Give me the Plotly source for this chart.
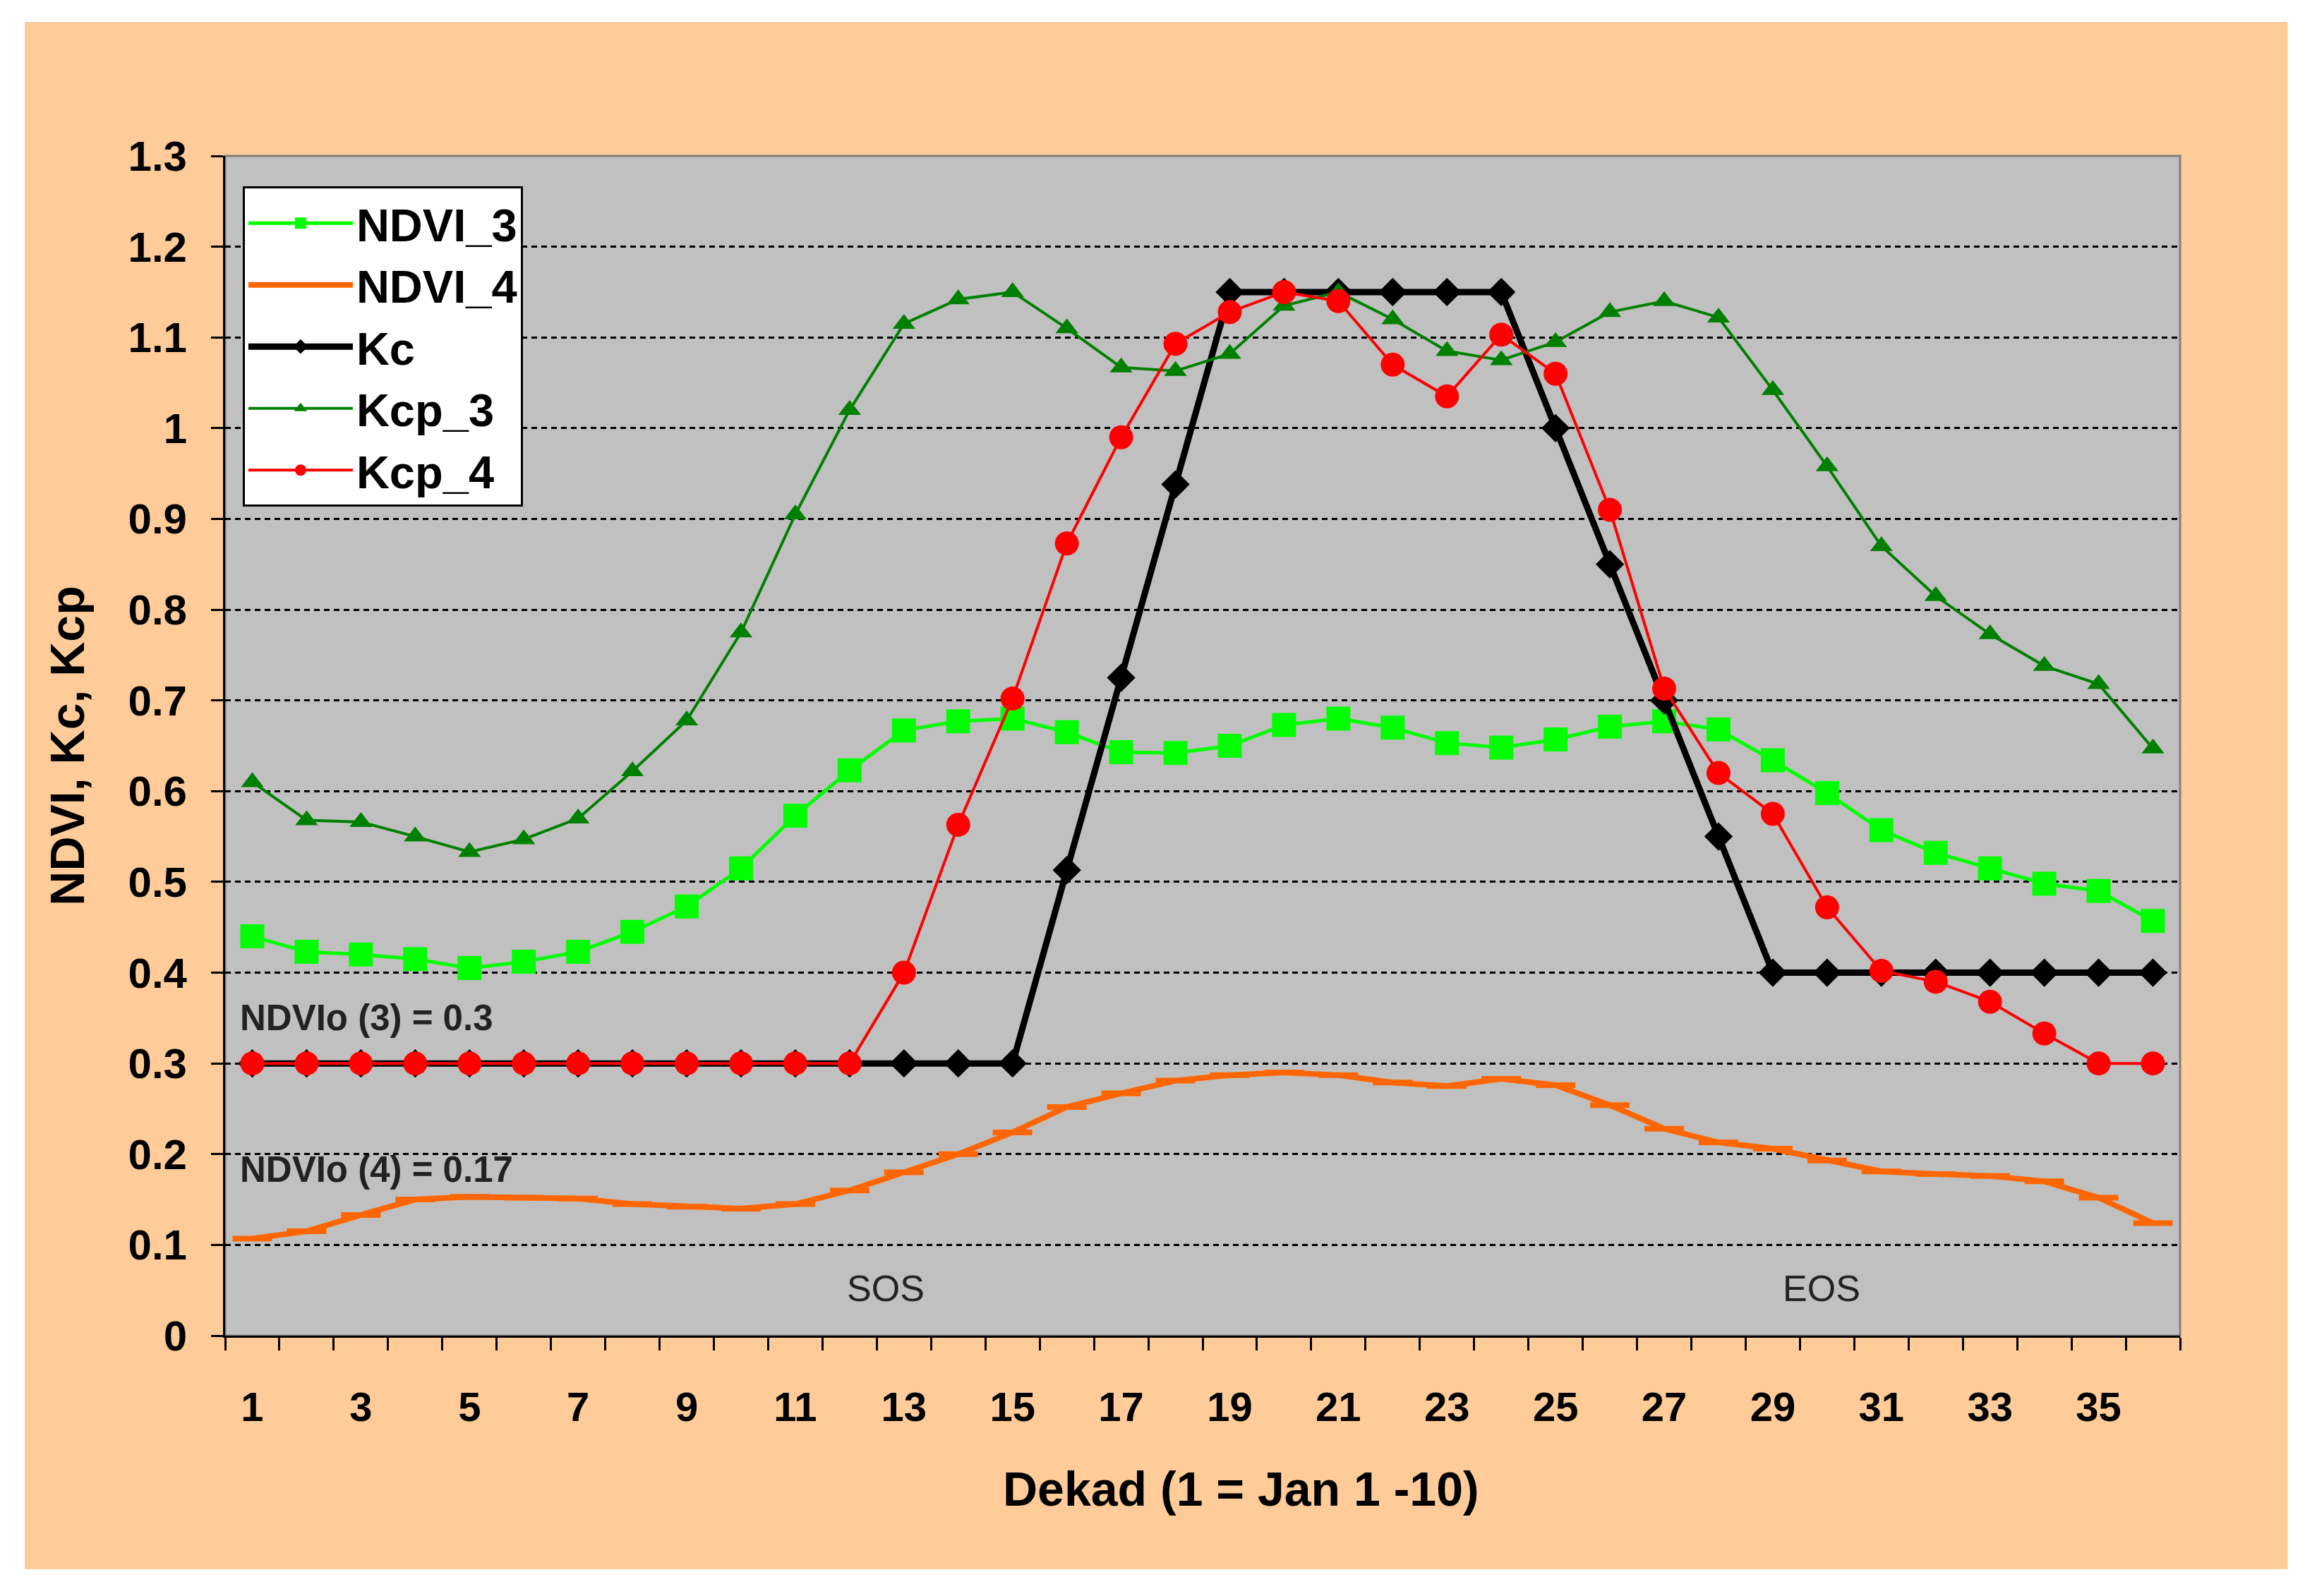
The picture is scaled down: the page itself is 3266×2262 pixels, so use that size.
import plotly.graph_objects as go

dekad = list(range(1, 37))

ndvi_3 = [0.440, 0.423, 0.420, 0.415, 0.405, 0.412, 0.423, 0.445, 0.473, 0.515,
          0.573, 0.623, 0.667, 0.677, 0.680, 0.665, 0.643, 0.642, 0.650, 0.673,
          0.680, 0.670, 0.653, 0.648, 0.657, 0.671, 0.677, 0.668, 0.634, 0.598,
          0.557, 0.532, 0.515, 0.498, 0.490, 0.457]

ndvi_4 = [0.107, 0.115, 0.133, 0.150, 0.153, 0.152, 0.151, 0.145, 0.142, 0.140,
          0.145, 0.160, 0.180, 0.200, 0.224, 0.252, 0.267, 0.281, 0.287, 0.290,
          0.287, 0.279, 0.275, 0.283, 0.276, 0.254, 0.228, 0.213, 0.206, 0.193,
          0.181, 0.178, 0.176, 0.170, 0.152, 0.124]

kc = [0.3] * 15 + [0.513, 0.725, 0.938, 1.15, 1.15, 1.15, 1.15, 1.15, 1.15,
                   1.0, 0.85, 0.7, 0.55, 0.4, 0.4, 0.4, 0.4, 0.4, 0.4, 0.4, 0.4]

kcp_3 = [0.610, 0.568, 0.566, 0.550, 0.533, 0.547, 0.570, 0.622, 0.678, 0.775,
         0.905, 1.020, 1.115, 1.142, 1.150, 1.110, 1.067, 1.063, 1.082, 1.135,
         1.150, 1.120, 1.085, 1.075, 1.095, 1.128, 1.140, 1.122, 1.042, 0.958,
         0.870, 0.815, 0.773, 0.738, 0.718, 0.647]

kcp_4 = [0.3] * 12 + [0.400, 0.563, 0.702, 0.873, 0.990, 1.093, 1.128, 1.150,
                      1.140, 1.070, 1.035, 1.103, 1.060, 0.910, 0.713, 0.620,
                      0.575, 0.472, 0.402, 0.390, 0.368, 0.333, 0.300, 0.300]

x_labels = list(range(1, 37, 2))
y_ticks = [round(0.1 * i, 1) for i in range(0, 14)]
y_text = ["0", "0.1", "0.2", "0.3", "0.4", "0.5", "0.6", "0.7", "0.8", "0.9",
          "1", "1.1", "1.2", "1.3"]

x_title = "Dekad (1 = Jan 1 -10)"
y_title = "NDVI, Kc, Kcp"

FONT = "Liberation Sans, Arial, sans-serif"

fig = go.Figure()

fig.add_trace(go.Scatter(
    x=dekad, y=ndvi_3, name="NDVI_3", mode="lines+markers",
    line=dict(color="#00FF00", width=5),
    marker=dict(symbol="square", size=34, color="#00FF00")))

fig.add_trace(go.Scatter(
    x=dekad, y=ndvi_4, name="NDVI_4", mode="lines+markers",
    line=dict(color="#FF6600", width=8),
    marker=dict(symbol="line-ew", size=40, color="#FF6600",
                line=dict(color="#FF6600", width=8))))

fig.add_trace(go.Scatter(
    x=dekad, y=kc, name="Kc", mode="lines+markers",
    line=dict(color="#000000", width=9),
    marker=dict(symbol="diamond", size=31, color="#000000")))

fig.add_trace(go.Scatter(
    x=dekad, y=kcp_3, name="Kcp_3", mode="lines+markers",
    line=dict(color="#008000", width=4),
    marker=dict(symbol="triangle-up", size=28, color="#008000")))

fig.add_trace(go.Scatter(
    x=dekad, y=kcp_4, name="Kcp_4", mode="lines+markers",
    line=dict(color="#FF0000", width=4),
    marker=dict(symbol="circle", size=34, color="#FF0000")))

shapes = [
    dict(type="rect", xref="paper", yref="paper", x0=-0.1025, x1=1.055,
         y0=-0.198, y1=1.1136, fillcolor="#FFCC99", line=dict(width=0),
         layer="below"),
    dict(type="rect", xref="paper", yref="paper", x0=0, x1=1, y0=0, y1=1,
         fillcolor="#C0C0C0", line=dict(color="#808080", width=3),
         layer="below"),
]

annotations = [
    dict(text="NDVIo (3) = 0.3", xref="paper", yref="y", x=0.007, y=0.35,
         xanchor="left", yanchor="middle", showarrow=False,
         font=dict(family=FONT, size=51, color="#222222", weight="bold")),
    dict(text="NDVIo (4) = 0.17", xref="paper", yref="y", x=0.007, y=0.183,
         xanchor="left", yanchor="middle", showarrow=False,
         font=dict(family=FONT, size=51, color="#222222", weight="bold")),
    dict(text="SOS", xref="x", yref="y", x=12.67, y=0.052,
         xanchor="center", yanchor="middle", showarrow=False,
         font=dict(family=FONT, size=52, color="#222222")),
    dict(text="EOS", xref="x", yref="y", x=29.9, y=0.052,
         xanchor="center", yanchor="middle", showarrow=False,
         font=dict(family=FONT, size=52, color="#222222")),
    dict(text=x_title, xref="paper", yref="paper", x=0.5195, y=-0.1295,
         xanchor="center", yanchor="middle", showarrow=False,
         font=dict(family=FONT, size=68, color="#000000", weight="bold")),
]

fig.update_layout(
    width=3266, height=2262,
    margin=dict(l=311, r=185, t=213, b=377),
    paper_bgcolor="#FFFFFF", plot_bgcolor="#C0C0C0",
    font=dict(family=FONT, color="#000000"),
    shapes=shapes, annotations=annotations,
    legend=dict(x=0.009, y=0.974, xanchor="left", yanchor="top",
                bgcolor="#FFFFFF", bordercolor="#000000", borderwidth=3,
                font=dict(family=FONT, size=65, color="#000000", weight="bold"),
                itemwidth=148, tracegroupgap=0),
    xaxis=dict(
        range=[0.5, 36.5], tickvals=x_labels, ticktext=[str(v) for v in x_labels],
        ticks="", showgrid=False, zeroline=False,
        showline=True, linecolor="#000000", linewidth=3,
        tickfont=dict(family=FONT, size=58, color="#000000", weight="bold"),
        ticklabelstandoff=48,
        minor=dict(tickvals=[i + 0.5 for i in range(0, 37)], ticks="outside",
                   ticklen=18, tickwidth=3, tickcolor="#000000", showgrid=False),
    ),
    yaxis=dict(
        range=[0, 1.3], tickvals=y_ticks, ticktext=y_text,
        ticks="outside", ticklen=17, tickwidth=3, tickcolor="#000000",
        showgrid=False, zeroline=False,
        showline=True, linecolor="#000000", linewidth=3,
        tickfont=dict(family=FONT, size=60, color="#000000", weight="bold"),
        ticklabelstandoff=22,
        minor=dict(tickvals=y_ticks[1:13], ticks="", showgrid=True,
                   gridcolor="#000000", gridwidth=3, griddash="8px,6px"),
        title=dict(text=y_title, standoff=40,
                   font=dict(family=FONT, size=68, color="#000000", weight="bold")),
    ),
)

fig.write_html("out.html")
